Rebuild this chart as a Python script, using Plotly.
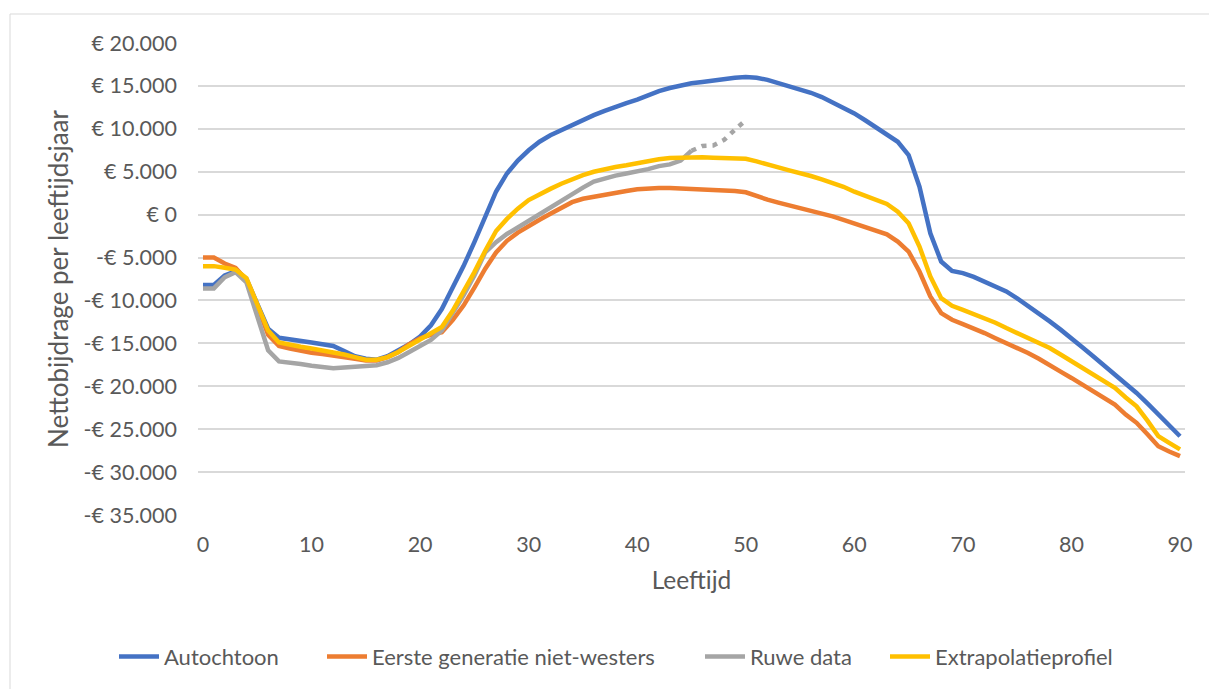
import plotly.graph_objects as go

ages = list(range(0, 91))

autochtoon = [
    -8200, -8200, -7100, -6600, -7500, -10400, -13300, -14350, -14500, -14700,
    -14900, -15100, -15300, -15900, -16500, -16800, -16900, -16500, -15800, -15100,
    -14200, -12900, -11000, -8500, -6000, -3200, -300, 2700, 4800, 6300,
    7500, 8500, 9250, 9850, 10400, 11000, 11600, 12100, 12600, 13000,
    13400, 13900, 14400, 14750, 15080, 15300, 15450, 15650, 15850, 15950,
    16050, 15950, 15700, 15350, 14900, 14550, 14200, 13700, 13100, 12500,
    11800, 11000, 10200, 9380, 8490, 6940, 3260, -2170, -5470, -6550,
    -6820, -7250, -7790, -8350, -8950, -9750, -10620, -11500, -12440, -13400,
    -14380, -15450, -16510, -17550, -18640, -19700, -20780, -22000, -23300, -24550,
    -25820,
]

eerste_generatie = [
    -5000, -5000, -5700, -6200, -7600, -10600, -14000, -15300, -15600, -15900,
    -16100, -16250, -16400, -16600, -16800, -17000, -17000, -16600, -16000, -15100,
    -14400, -14000, -13700, -12300, -10600, -8500, -6300, -4400, -3050, -2100,
    -1300, -600, 100, 800, 1450, 1850, 2100, 2350, 2550, 2750,
    2950, 3050, 3100, 3100, 3050, 3000, 2950, 2800, 2750, 2750,
    2600, 2150, 1750, 1400, 1100, 800, 500, 150, -200, -600,
    -1000, -1450, -1860, -2290, -3140, -4300, -6630, -9540, -11470, -12250,
    -12750, -13250, -13800, -14400, -14960, -15550, -16120, -16800, -17480, -18300,
    -19030, -19800, -20580, -21300, -22130, -23300, -24260, -25600, -26980, -27600,
    -28140,
]

ruwe_data = [
    -8600, -8600, -7300, -6700, -7900, -12000, -15800, -17100, -17200, -17400,
    -17600, -17800, -17900, -17800, -17700, -17650, -17550, -17200, -16700, -16000,
    -15300, -14600, -13500, -11500, -9400, -7100, -4400, -3200, -2250, -1500,
    -700, 100, 850, 1700, 2450, 3150, 3850, 4250, 4550, 4800,
    5000, 5300, 5650, 5850, 6300, 7450, 8000, 8050, 8700, 9900,
    11000,
]
ruwe_solid_end = 45  # age where the raw data switches to a dotted line

extrapolatie = [
    -6000, -6000, -6200, -6400, -7400, -10400, -13500, -14900, -15200, -15400,
    -15600, -15800, -16000, -16300, -16600, -16900, -16900, -16600, -16000, -15300,
    -14600, -13900, -13100, -11200, -9050, -6700, -4200, -1900, -500, 700,
    1700, 2400, 3000, 3600, 4150, 4600, 5000, 5300, 5550, 5750,
    6000, 6250, 6450, 6600, 6650, 6700, 6680, 6620, 6550, 6550,
    6500, 6200, 5800, 5500, 5150, 4850, 4500, 4100, 3720, 3250,
    2670, 2150, 1700, 1240, 350, -1000, -3720, -7200, -9730, -10620,
    -11090, -11550, -12050, -12600, -13220, -13800, -14380, -14950, -15540, -16300,
    -17090, -17850, -18640, -19400, -20190, -21300, -22330, -24000, -25800, -26590,
    -27360,
]

y_tickvals = [20000, 15000, 10000, 5000, 0, -5000, -10000, -15000, -20000, -25000, -30000, -35000]
y_ticktext = ["€ 20.000", "€ 15.000", "€ 10.000", "€ 5.000", "€ 0", "-€ 5.000", "-€ 10.000",
              "-€ 15.000", "-€ 20.000", "-€ 25.000", "-€ 30.000", "-€ 35.000"]
x_tickvals = [0, 10, 20, 30, 40, 50, 60, 70, 80, 90]

BLUE = "#4472C4"
ORANGE = "#ED7D31"
GRAY = "#A5A5A5"
YELLOW = "#FFC000"
LW = 4.5

FONT = "Lato"
TXT = "#595959"

fig = go.Figure()
fig.add_trace(go.Scatter(x=ages, y=autochtoon, mode="lines", name="Autochtoon", legend="legend",
                         line=dict(color=BLUE, width=LW)))
fig.add_trace(go.Scatter(x=ages, y=eerste_generatie, mode="lines", name="Eerste generatie niet-westers",
                         legend="legend2", line=dict(color=ORANGE, width=LW)))
fig.add_trace(go.Scatter(x=ages[:ruwe_solid_end + 1], y=ruwe_data[:ruwe_solid_end + 1], mode="lines",
                         name="Ruwe data", legend="legend3",
                         line=dict(color=GRAY, width=LW)))
fig.add_trace(go.Scatter(x=ages[ruwe_solid_end:len(ruwe_data)], y=ruwe_data[ruwe_solid_end:], mode="lines",
                         name="Ruwe data", legend="legend3", showlegend=False,
                         line=dict(color=GRAY, width=LW, dash="5px,6px")))
fig.add_trace(go.Scatter(x=ages, y=extrapolatie, mode="lines", name="Extrapolatieprofiel", legend="legend4",
                         line=dict(color=YELLOW, width=LW)))

PLOT_L, PLOT_W = 198, 987
LEG_Y = -0.30


def leg(text_start_px):
    return dict(orientation="h", x=(text_start_px - 51 - PLOT_L) / PLOT_W, xanchor="left",
                y=LEG_Y, yanchor="middle", bgcolor="rgba(0,0,0,0)",
                font=dict(family=FONT, size=22, color=TXT), itemwidth=40)


fig.update_layout(
    width=1209, height=689,
    margin=dict(l=198, r=24, t=43, b=174, autoexpand=False),
    paper_bgcolor="white", plot_bgcolor="white",
    font=dict(family=FONT, size=20, color=TXT),
    showlegend=True,
    legend=leg(165), legend2=leg(373), legend3=leg(751), legend4=leg(936),
    shapes=[dict(type="rect", xref="paper", yref="paper",
                 x0=(10 - 198) / 987, x1=1.2, y0=-0.6, y1=(515 - 14) / 472,
                 line=dict(color="#D9D9D9", width=1), fillcolor="rgba(0,0,0,0)", layer="below")],
)

fig.update_xaxes(
    range=[-0.46, 90.46], tickvals=x_tickvals, showgrid=False, zeroline=False,
    showline=False, ticks="", ticklabelstandoff=14,
    tickfont=dict(family=FONT, size=21.5, color=TXT),
    title=dict(text="Leeftijd", font=dict(family=FONT, size=24.5, color=TXT), standoff=16),
)
fig.update_yaxes(
    range=[-35000, 20000], tickvals=y_tickvals, ticktext=y_ticktext,
    showgrid=True, gridcolor="#D9D9D9", gridwidth=1.5, zeroline=False, showline=False,
    ticks="", ticklabelstandoff=20,
    tickfont=dict(family=FONT, size=21.5, color=TXT),
    title=dict(text="Nettobijdrage per leeftijdsjaar", font=dict(family=FONT, size=26, color=TXT), standoff=7),
)

fig.write_html("out.html")
